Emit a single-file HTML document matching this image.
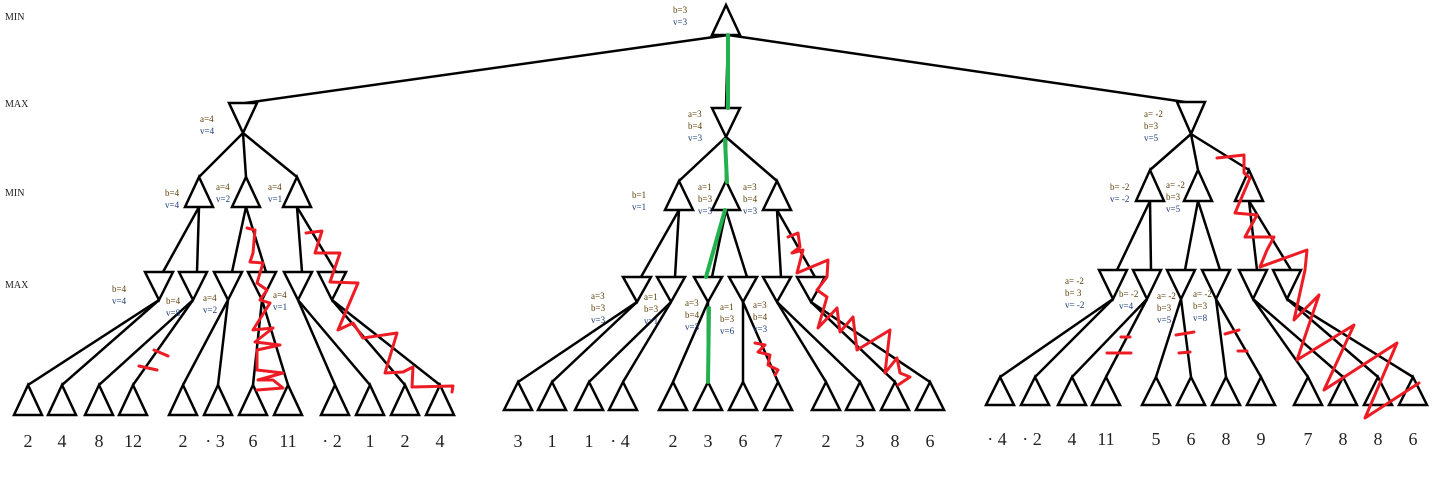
<!DOCTYPE html>
<html><head><meta charset="utf-8"><style>
html,body{margin:0;padding:0;background:#fff;}
svg{display:block;}
</style></head><body>
<svg id="tree" width="1437" height="477" viewBox="0 0 1437 477" xmlns="http://www.w3.org/2000/svg" font-family="Liberation Serif, serif">
<g id="levels" font-size="10" fill="#222">
<text x="5" y="20">MIN</text>
<text x="5" y="107">MAX</text>
<text x="5" y="196">MIN</text>
<text x="5" y="288">MAX</text>
</g>
<g id="edges" stroke="#000" stroke-width="2.5" fill="none"></g>
<g id="nodes" stroke="#000" stroke-width="2.5" fill="#fff"></g>
<g id="marks" fill="none" stroke-linecap="round" stroke-linejoin="round"></g>
<g id="labels" font-size="9"></g>
<g id="leafvals" font-size="18" fill="#222" text-anchor="middle"></g>
</svg>
<script>
const leafValues = [2,4,8,12,2,-3,6,11,-2,1,2,4, 3,1,1,-4,2,3,6,7,2,3,8,6, -4,-2,4,11,5,6,8,9,7,8,8,6];
const nodeLabels = [
 [673,10,["b=3","v=3"]],
 [200,119,["a=4","v=4"]],
 [688,114,["a=3","b=4","v=3"]],
 [1144,114,["a= -2","b=3","v=5"]],
 [165,193,["b=4","v=4"]],[216,187,["a=4","v=2"]],[268,187,["a=4","v=1"]],
 [112,289,["b=4","v=4"]],[166,301,["b=4","v=8"]],[203,298,["a=4","v=2"]],[273,295,["a=4","v=1"]],
 [632,195,["b=1","v=1"]],[698,187,["a=1","b=3","v=3"]],[743,187,["a=3","b=4","v=3"]],
 [591,296,["a=3","b=3","v=3"]],[644,297,["a=1","b=3","v=1"]],[685,303,["a=3","b=4","v=3"]],[720,307,["a=1","b=3","v=6"]],[753,305,["a=3","b=4","v=3"]],
 [1110,187,["b= -2","v= -2"]],[1166,185,["a= -2","b=3","v=5"]],
 [1065,281,["a= -2","b= 3","v= -2"]],[1119,294,["b= -2","v=4"]],[1157,296,["a= -2","b=3","v=5"]],[1193,294,["a= -2","b=3","v=8"]]
];
const NS="http://www.w3.org/2000/svg";
const E=document.getElementById('edges'),N=document.getElementById('nodes'),M=document.getElementById('marks'),L=document.getElementById('labels'),V=document.getElementById('leafvals');
function mk(tag,attrs,parent){const e=document.createElementNS(NS,tag);for(const k in attrs)e.setAttribute(k,attrs[k]);parent.appendChild(e);return e;}
function line(x1,y1,x2,y2){const l=mk('line',{x1,y1,x2,y2},E);

}
function up(cx,ay,by,name){const p=mk('polygon',{points:`${cx},${ay} ${cx-14},${by} ${cx+14},${by}`},N);

}
function down(cx,ty,ay,name){const p=mk('polygon',{points:`${cx-14},${ty} ${cx+14},${ty} ${cx},${ay}`},N);

}
// layout
const root={x:726,ay:5,by:35};
const L1x=[243,726,1191],L1t=[103,108,102],L1a=[133,137,134];
const L2x=[[199,246,297],[679,726,777],[1150,1198,1249]],L2a=[177,181,170],L2b=[207,210,201];
const L3x=[[159,193,228,262,298,332],[637,671,708,743,777,811],[1113,1147,1181,1216,1253,1287]],L3t=[272,277,270],L3a=[300,302,299];
const LFx=[[28,62,99,133,183,218,253,288,335,370,405,440],[518,552,589,623,673,708,743,778,826,860,895,930],[1000,1035,1072,1106,1156,1191,1226,1261,1308,1343,1378,1413]];
const LFa=[385,382,377],LFb=[415,410,405],LFy=[447,447,445];
up(root.x,root.ay,root.by,'root-min-node');
for(let g=0;g<3;g++){
 line(root.x+2,root.by,L1x[g]+(g==0?2:(g==2?-6:0)),L1t[g]);
 down(L1x[g],L1t[g],L1a[g],'max-node-level1');
 for(let i=0;i<3;i++){
  const x2=L2x[g][i];
  line(L1x[g],L1a[g],x2,L2a[g]);
  up(x2,L2a[g],L2b[g],'min-node-level2');
  for(let j=0;j<2;j++){
   const k=i*2+j,x3=L3x[g][k];
   line(x2,L2b[g],x3+4,L3t[g]);
   down(x3,L3t[g],L3a[g],'max-node-level3');
   for(let m=0;m<2;m++){
    const li=k*2+m,x4=LFx[g][li];
    line(x3,L3a[g],x4,LFa[g]);
    up(x4,LFa[g],LFb[g],'leaf-node');
    const v=leafValues[g*12+li];
    const t=mk('text',{x:x4+(v<0?-3:0),y:LFy[g]},V);
    t.textContent=(v<0?'· ':'')+Math.abs(v);
    
    
   }
  }
 }
}
// labels
const cols=['#7a4a00','#7a4a00','#1a3a7a'];
nodeLabels.forEach(([x,y,lines])=>{
 const t=mk('text',{x,y},L);
 
 
 lines.forEach((s,i)=>{const ts=mk('tspan',{x,dy:i==0?3:12,fill:s[0]=='v'?'#1a3a7a':'#5a3a00'},t);ts.textContent=s;});
});
// green path
[[728,35,728,108],[725,140,727,182],[725,210,706,277],[709,308,708,382]].forEach(a=>{
 const l=mk('line',{x1:a[0],y1:a[1],x2:a[2],y2:a[3],stroke:'#22b14c','stroke-width':4},M);
 
 
});
// red pruning scribbles
const scr=[
"247,228 255,230 253,253 250,262 263,263 257,283 267,290 260,300 270,303 253,330 273,328 255,342 280,345 257,350 257,370 283,373 258,380 273,380 283,388 257,390",
"306,233 322,231 315,253 340,253 330,282 358,283 338,330 353,323 363,338 397,333 385,373 403,372 413,367 412,387 453,386 452,392",
"139,366 157,370","154,350 168,356",
"788,237 798,233 800,247 792,253 803,250 797,273 828,260 827,277 817,290 827,297 818,328 837,308 840,332 853,317 857,350 890,330 885,373 897,358 900,373 910,377 898,385",
"755,343 765,345 758,352 770,355 768,365 778,370 775,375",
"1217,158 1244,155 1244,173 1250,178 1235,213 1257,215 1245,237 1274,237 1267,250 1260,267 1307,250 1305,270 1294,320 1319,295 1297,360 1354,325 1324,390 1397,343 1365,418 1419,383",
"1121,337 1130,337","1107,353 1131,353","1176,335 1194,332","1179,353 1190,352","1225,334 1239,330","1238,351 1247,351"
];
scr.forEach(p=>{
 const pl=mk('polyline',{points:p,stroke:'#ed1c24','stroke-width':3},M);
 
 
});
</script>
</body></html>
